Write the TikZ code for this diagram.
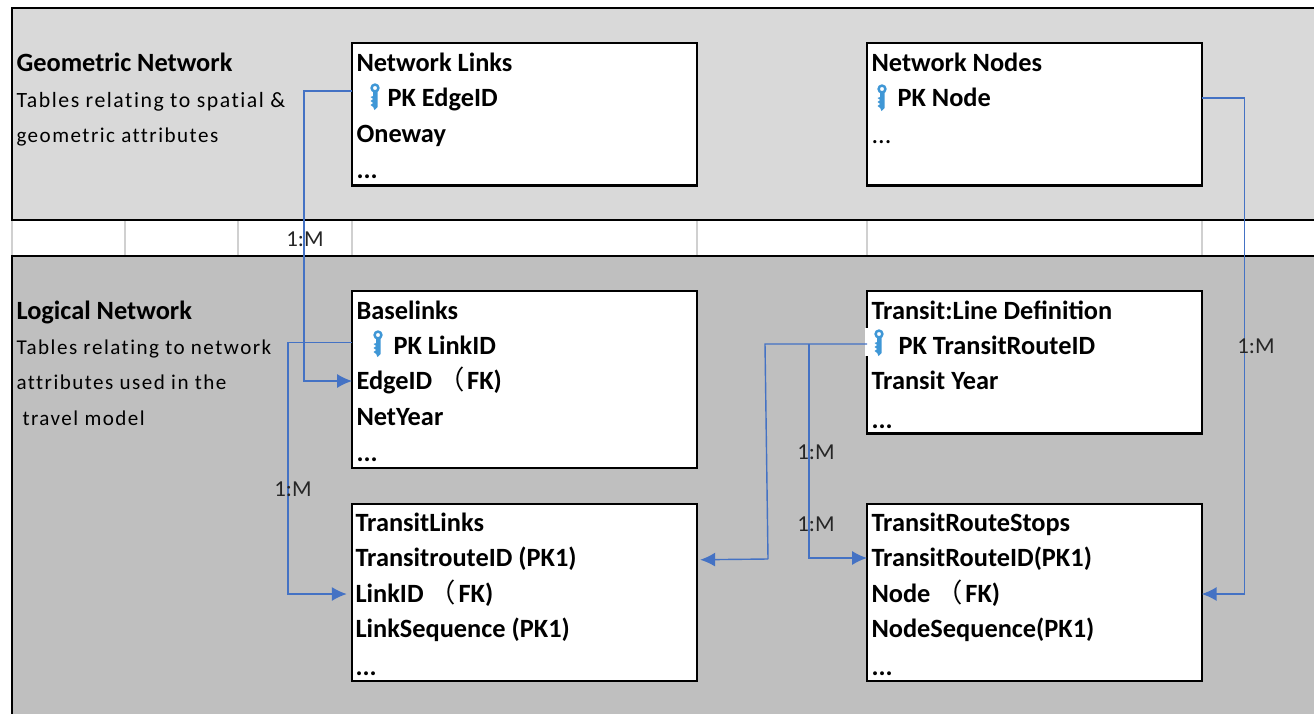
\documentclass[tikz,border=0pt]{standalone}
\usepackage{fontspec}
\setmainfont{Carlito}
\newfontfamily\cjk{Noto Sans CJK SC}
\newfontfamily\descfont[LetterSpace=7,Ligatures=NoCommon]{Carlito}
\usetikzlibrary{arrows.meta}
\definecolor{topband}{HTML}{D9D9D9}
\definecolor{lowband}{HTML}{BFBFBF}
\definecolor{cellline}{HTML}{D0D0D0}
\definecolor{linkblue}{HTML}{4472C4}
\definecolor{keyblue}{HTML}{3F97D6}
\newcommand{\fwparen}{{\cjk\mdseries （}\kern1.5pt}

\begin{document}
\begin{tikzpicture}[x=0.02cm, y=-0.02cm, >={Latex[length=8.5pt,width=8pt]}, semithick]
    \tikzset{
        table/.style={draw, fill=white, line width=1.3pt, inner sep=0pt, outer sep=0pt, anchor=north west},
        row/.style={anchor=west, inner sep=0pt, text height=11.5pt, text depth=2pt, font=\fontsize{15}{17}\selectfont\bfseries},
        title/.style={anchor=west, inner sep=0pt, text height=11.5pt, text depth=2pt, font=\fontsize{15}{17}\selectfont\bfseries},
        desc/.style={anchor=west, inner sep=0pt, text height=10pt, text depth=2pt, font=\fontsize{12}{15}\descfont},
        ratio/.style={inner sep=0pt, font=\fontsize{13}{15}\selectfont, text=black!85},
        link/.style={draw=linkblue, line width=0.8pt},
        keyicon/.pic={
            \draw[keyblue, line width=1.4pt] (0,0) circle (3.4);
            \fill[keyblue] (-1.8,3) -- (2.6,3) -- (2.6,19) -- (-0.5,22) -- (-1.8,19) -- (-4.5,17) -- (-1.8,15) -- (-4.5,13) -- (-1.8,11) -- (-4.5,9) -- (-1.8,8) -- cycle;
        }
    };
    \useasboundingbox (0,0) rectangle (1314,713);
    \fill[white] (0,0) rectangle (1314,713);

    % bands
    \draw[fill=topband, line width=1.3pt] (1316,8) -- (12,8) -- (12,220) -- (1316,220);
    \foreach \cellx in {12,125,238,352,697,867,1202}
        \draw[cellline, line width=1pt] (\cellx,221) -- (\cellx,255);
    \draw[fill=lowband, line width=1.3pt] (1316,256) -- (12,256) -- (12,715) -- (1316,715);

    % band captions
    \node[title] (geomtitle) at (16,63) {Geometric Network};
    \node[desc, font=\fontsize{12.4}{15}\descfont] (geomdesca) at (16,100) {Tables relating to spatial \&};
    \node[desc] (geomdescb) at (16,135) {geometric attributes};
    \node[title] (logtitle) at (16,311) {Logical Network};
    \node[desc] (logdesca) at (16,347) {Tables relating to network};
    \node[desc] (logdescb) at (16,382) {attributes used in the};
    \node[desc] (logdescc) at (22,418) {travel model};

    % tables
    \node[table, minimum width=346*0.567pt, minimum height=143*0.567pt] (nlinks) at (352,43) {};
    \node[table, minimum width=336*0.567pt, minimum height=143*0.567pt] (nnodes) at (867,43) {};
    \node[table, minimum width=346*0.567pt, minimum height=178*0.567pt] (blinks) at (352,291) {};
    \node[table, minimum width=336*0.567pt, minimum height=143*0.567pt] (tline) at (867,291) {};
    \node[table, minimum width=346*0.567pt, minimum height=178*0.567pt] (tlinks) at (352,504) {};
    \node[table, minimum width=336*0.567pt, minimum height=178*0.567pt] (tstops) at (867,504) {};
    \fill[white] (865,328) rectangle (872,356);

    % rows
    \node[row] (nlinksname) at (356,63) {Network Links};
    \node[row] (nlinkspk) at (387,98) {PK EdgeID};
    \node[row] (nlinksway) at (356,134) {Oneway};
    \node[row] (nlinksmore) at (356,170) {...};
    \node[row] (nnodesname) at (871,63) {Network Nodes};
    \node[row] (nnodespk) at (897,98) {PK Node};
    \node[row, font=\fontsize{15}{17}\selectfont] (nnodesmore) at (871,135) {...};
    \node[row] (blinksname) at (356,311) {Baselinks};
    \node[row] (blinkspk) at (393,346) {PK LinkID};
    \node[row] (blinksedge) at (356,381) {EdgeID \fwparen{}FK)};
    \node[row] (blinksyear) at (356,417) {NetYear};
    \node[row] (blinksmore) at (356,453) {...};
    \node[row] (tlinename) at (871,311) {Transit:Line Definition};
    \node[row] (tlinepk) at (898,346) {PK TransitRouteID};
    \node[row] (tlineyear) at (871,381) {Transit Year};
    \node[row] (tlinemore) at (871,420) {...};
    \node[row] (tlinksname) at (355,523) {TransitLinks};
    \node[row] (tlinksroute) at (355,558) {TransitrouteID (PK1)};
    \node[row] (tlinkslink) at (355,594) {LinkID \fwparen{}FK)};
    \node[row] (tlinksseq) at (355,629) {LinkSequence (PK1)};
    \node[row] (tlinksmore) at (355,667) {...};
    \node[row] (tstopsname) at (871,523) {TransitRouteStops};
    \node[row] (tstopsroute) at (871,558) {TransitRouteID(PK1)};
    \node[row] (tstopsnode) at (871,594) {Node \fwparen{}FK)};
    \node[row] (tstopsseq) at (871,629) {NodeSequence(PK1)};
    \node[row] (tstopsmore) at (871,667) {...};

    \pic at (375,88) {keyicon};
    \pic at (882,89) {keyicon};
    \pic at (378,335) {keyicon};
    \pic at (879,334) {keyicon};

    % connectors
    \coordinate (tlinebend) at (765,344);
    \coordinate (tlinefoot) at (768,559);
    \coordinate (tlinebranch) at (809,344);
    \draw[link, ->] ([yshift=4pt]nlinks.west |- nlinkspk) -- ++(-48,0) |- (blinks.west |- blinksedge);
    \draw[link, ->] ([yshift=2pt]blinks.west |- blinkspk) -- ++(-64,0) |- ([xshift=-3pt]tlinks.west |- tlinkslink);
    \draw[link] (tline.west |- tlinebend) -- (tlinebend) -- (tlinefoot);
    \draw[link, ->] (tlinefoot) -- ([yshift=-1pt,xshift=2pt]tlinks.east |- tlinksroute);
    \draw[link, ->] (tlinebranch) |- (tstops.west |- tstopsroute);
    \draw[link, ->] (nnodes.east |- nnodespk) -- ++(42.5,0) |- (tstops.east |- tstopsnode);

    % cardinalities
    \node[ratio] (ratiogeom) at (305,239) {1:M};
    \node[ratio] (ratiobase) at (293,489) {1:M};
    \node[ratio] (ratioline) at (816,452) {1:M};
    \node[ratio] (ratiostops) at (816,524) {1:M};
    \node[ratio] (rationodes) at (1256,346) {1:M};
\end{tikzpicture}
\end{document}
